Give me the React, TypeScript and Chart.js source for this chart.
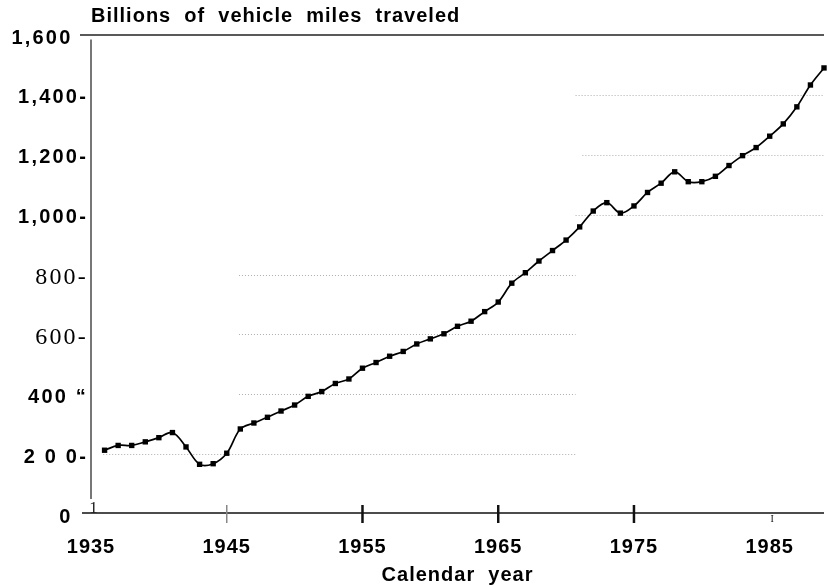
import React, { useEffect, useRef } from "react";
import { Chart, registerables } from "chart.js";

Chart.register(...registerables);

// ---- data ----
const years = [
  1936, 1937, 1938, 1939, 1940, 1941, 1942, 1943, 1944, 1945,
  1946, 1947, 1948, 1949, 1950, 1951, 1952, 1953, 1954, 1955,
  1956, 1957, 1958, 1959, 1960, 1961, 1962, 1963, 1964, 1965,
  1966, 1967, 1968, 1969, 1970, 1971, 1972, 1973, 1974, 1975,
  1976, 1977, 1978, 1979, 1980, 1981, 1982, 1983, 1984, 1985,
  1986, 1987, 1988, 1989,
];
const vehicleMiles = [
  213, 229, 229, 241, 255, 272, 224, 166, 168, 203,
  284, 304, 323, 344, 364, 393, 409, 436, 451, 487,
  506, 527, 543, 568, 585, 602, 627, 644, 676, 708,
  771, 806, 845, 880, 915, 959, 1012, 1040, 1005, 1029,
  1074, 1105, 1143, 1110, 1110, 1128, 1164, 1197, 1224, 1262,
  1303, 1360, 1433, 1490,
];

const xTickYears = [1935, 1945, 1955, 1965, 1975, 1985];
const yTickValues = [0, 200, 400, 600, 800, 1000, 1200, 1400, 1600];
const yTickLabels = ["0  ", "2 0 0-", "400 \u201C", "600-", "800-", "1,000-", "1,200-", "1,400-", "1,600  "];

// partial dotted reference lines (value, from year, to year)
const gridValues = [200, 400, 600, 800, 1000, 1200, 1400];
const gridFrom = [1935.9, 1945.9, 1945.9, 1945.9, 1970.7, 1971.2, 1970.7];
const gridTo = [1970.7, 1970.7, 1970.7, 1970.7, 1989, 1989, 1989];

const titleText = "Billions  of  vehicle  miles  traveled";
const xTitleText = "Calendar  year";

const SANS = "'Liberation Sans', Arial, sans-serif";
const SERIF = "'Liberation Serif', 'Times New Roman', serif";

const decorPlugin = {
  id: "decor",
  beforeLayout(chart: any) {
    chart.ctx.letterSpacing = "1px";
  },
  beforeDraw(chart: any) {
    chart.ctx.letterSpacing = "1px";
  },
  beforeDatasetsDraw(chart: any) {
    const { ctx, chartArea } = chart;
    const x = chart.scales.x;
    const y = chart.scales.y;
    ctx.save();
    // dotted partial grid lines
    ctx.strokeStyle = "rgba(120,120,120,0.6)";
    ctx.lineWidth = 1;
    ctx.setLineDash([1, 2]);
    gridValues.forEach((v, i) => {
      const py = Math.round(y.getPixelForValue(v)) + 0.5;
      ctx.beginPath();
      ctx.moveTo(x.getPixelForValue(gridFrom[i]), py);
      ctx.lineTo(x.getPixelForValue(gridTo[i]), py);
      ctx.stroke();
    });
    ctx.setLineDash([]);

    // top frame line
    const topY = y.getPixelForValue(1600);
    ctx.strokeStyle = "#222";
    ctx.lineWidth = 1.5;
    ctx.beginPath();
    ctx.moveTo(chartArea.left - 11, topY);
    ctx.lineTo(chartArea.right, topY);
    ctx.stroke();

    // left axis (broken near the bottom)
    ctx.strokeStyle = "#555";
    ctx.lineWidth = 1.6;
    ctx.beginPath();
    ctx.moveTo(chartArea.left, y.getPixelForValue(1585));
    ctx.lineTo(chartArea.left, y.getPixelForValue(50));
    ctx.stroke();

    // bottom axis
    const baseY = y.getPixelForValue(0) - 1;
    ctx.strokeStyle = "#111";
    ctx.lineWidth = 1.5;
    ctx.beginPath();
    ctx.moveTo(chartArea.left - 9, baseY);
    ctx.lineTo(chartArea.right, baseY);
    ctx.stroke();

    // tick marks crossing the axis
    xTickYears.forEach((yr, i) => {
      const px = x.getPixelForValue(yr);
      if (i === 0) return;
      if (i === xTickYears.length - 1) {
        ctx.fillStyle = "#111";
        ctx.font = `10px ${SERIF}`;
        ctx.textAlign = "center";
        ctx.textBaseline = "middle";
        ctx.fillText("I", px + 3, baseY + 6);
        return;
      }
      ctx.strokeStyle = i === 1 ? "#888" : "#111";
      ctx.lineWidth = i === 1 ? 1.5 : 2.5;
      ctx.beginPath();
      ctx.moveTo(px, baseY - 8);
      ctx.lineTo(px, baseY + 10);
      ctx.stroke();
    });

    // stray "1" glyph at the axis origin
    ctx.fillStyle = "#222";
    ctx.font = `17px ${SERIF}`;
    ctx.textAlign = "center";
    ctx.textBaseline = "alphabetic";
    ctx.fillText("1", chartArea.left + 3, baseY);
    ctx.restore();
  },
};

export default function App() {
  const canvasRef = useRef<HTMLCanvasElement | null>(null);

  useEffect(() => {
    const canvas = canvasRef.current;
    if (!canvas) return;
    const points = years.map((yr, i) => ({ x: yr, y: vehicleMiles[i] }));
    const chart = new Chart(canvas, {
      type: "line",
      data: {
        datasets: [
          {
            data: points,
            borderColor: "#000",
            borderWidth: 1.7,
            tension: 0.35,
            pointStyle: "rect",
            pointRadius: 3.8,
            pointBackgroundColor: "#000",
            pointBorderColor: "#000",
            pointBorderWidth: 0,
            clip: 8,
          } as any,
        ],
      },
      options: {
        animation: false,
        responsive: false,
        devicePixelRatio: 1,
        layout: { padding: 0 },
        plugins: {
          legend: { display: false },
          tooltip: { enabled: false },
          title: {
            display: true,
            text: titleText,
            align: "start",
            fullSize: false,
            color: "#000",
            font: { family: SANS, size: 20, weight: "bold", lineHeight: 1.2 },
            padding: { top: 4, bottom: 7 },
          },
        },
        scales: {
          x: {
            type: "linear",
            min: 1935,
            max: 1989,
            grid: { display: false, drawTicks: false },
            border: { display: false },
            afterBuildTicks: (scale: any) => {
              scale.ticks = xTickYears.map((v) => ({ value: v }));
            },
            afterFit: (scale: any) => {
              scale.height = 71;
            },
            ticks: {
              autoSkip: false,
              maxRotation: 0,
              padding: 21,
              color: "#000",
              font: { family: SANS, size: 20, weight: "bold" },
              callback: (v: any) => String(v),
            },
            title: {
              display: true,
              text: xTitleText,
              color: "#000",
              font: { family: SANS, size: 20, weight: "bold", lineHeight: 1.0 },
              padding: { top: 0, bottom: 0 },
            },
          },
          y: {
            type: "linear",
            min: 0,
            max: 1600,
            grid: { display: false, drawTicks: false },
            border: { display: false },
            afterBuildTicks: (scale: any) => {
              scale.ticks = yTickValues.map((v) => ({ value: v }));
            },
            afterFit: (scale: any) => {
              scale.width = 91;
              if (!scale.__spaced) {
                const orig = scale.drawLabels.bind(scale);
                scale.drawLabels = (area: any) => {
                  const c = scale.ctx;
                  const prev = c.letterSpacing;
                  c.letterSpacing = "2.2px";
                  orig(area);
                  c.letterSpacing = prev;
                };
                scale.__spaced = true;
              }
            },
            ticks: {
              autoSkip: false,
              padding: 3,
              labelOffset: 3,
              color: "#000",
              font: (c: any) =>
                c.index === 3 || c.index === 4
                  ? { family: SERIF, size: 24, weight: "normal" }
                  : { family: SANS, size: 20, weight: "bold" },
              callback: (_v: any, i: number) => yTickLabels[i],
            },
          },
        },
      },
      plugins: [decorPlugin],
    });
    return () => chart.destroy();
  }, []);

  return (
    <div style={{ position: "absolute", left: 0, top: 0, width: 828, height: 585, background: "#fff" }}>
      <canvas ref={canvasRef} width={828} height={585} style={{ display: "block" }} />
    </div>
  );
}
